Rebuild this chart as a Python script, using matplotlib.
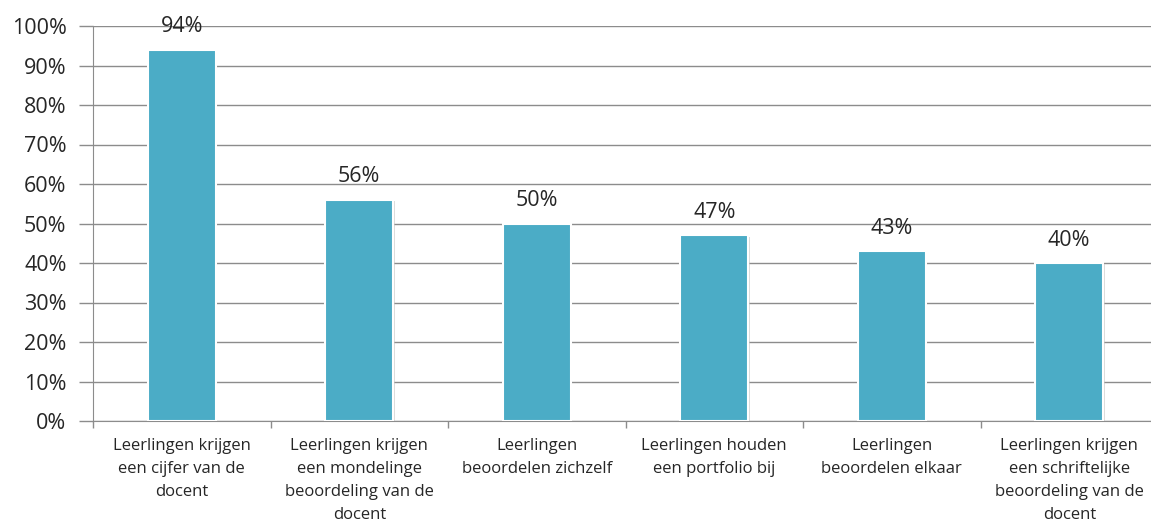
import matplotlib
matplotlib.use("Agg")
import matplotlib.pyplot as plt
import matplotlib.patheffects as pe
import numpy as np

categories = [
    "Leerlingen krijgen\neen cijfer van de\ndocent",
    "Leerlingen krijgen\neen mondelinge\nbeoordeling van de\ndocent",
    "Leerlingen\nbeoordelen zichzelf",
    "Leerlingen houden\neen portfolio bij",
    "Leerlingen\nbeoordelen elkaar",
    "Leerlingen krijgen\neen schriftelijke\nbeoordeling van de\ndocent",
]
values = [94, 56, 50, 47, 43, 40]
y_ticks = [0, 10, 20, 30, 40, 50, 60, 70, 80, 90, 100]

plt.rcParams["font.family"] = ["Open Sans", "DejaVu Sans"]

W, H = 1151, 532
fig = plt.figure(figsize=(W / 100, H / 100), dpi=100)
ax = fig.add_axes([93 / W, (H - 421) / H, 1065 / W, 395 / H])

grid_col = "#8c8c8c"
bar_col = "#4bacc6"
text_col = "#262626"

x = np.arange(len(values))
bars = ax.bar(x, values, width=0.385, color=bar_col, edgecolor="white",
              linewidth=1.5, zorder=3)
for b in bars:
    b.set_path_effects([pe.SimplePatchShadow(offset=(1.0, -1.0), shadow_rgbFace="#c4c4c4", alpha=0.6),
                        pe.Normal()])

for xi, v in zip(x, values):
    ax.annotate(f"{v}%", (xi, v), xytext=(0, 9), textcoords="offset points",
                ha="center", va="bottom", fontsize=15.5, color=text_col,
                annotation_clip=False, zorder=5)

ax.set_xlim(-0.5, len(values) - 0.5)
ax.set_ylim(0, 100)
ax.set_yticks(y_ticks)
ax.set_yticklabels([f"{t}%" for t in y_ticks], fontsize=15.5, color=text_col)
ax.yaxis.grid(True, color=grid_col, linewidth=1, zorder=0)
ax.tick_params(axis="y", length=10, width=1, color=grid_col, pad=9)

ax.set_xticks(x)
ax.set_xticklabels(categories, fontsize=12, color=text_col, linespacing=1.6)
ax.set_xticks(np.arange(len(values) + 1) - 0.5, minor=True)
ax.tick_params(axis="x", which="major", length=0, pad=12)
ax.tick_params(axis="x", which="minor", length=5, width=1, color=grid_col)

for s in ["top", "right"]:
    ax.spines[s].set_visible(False)
ax.spines["left"].set_color(grid_col)
ax.spines["bottom"].set_color(grid_col)

fig.savefig("out.png", dpi=100)
